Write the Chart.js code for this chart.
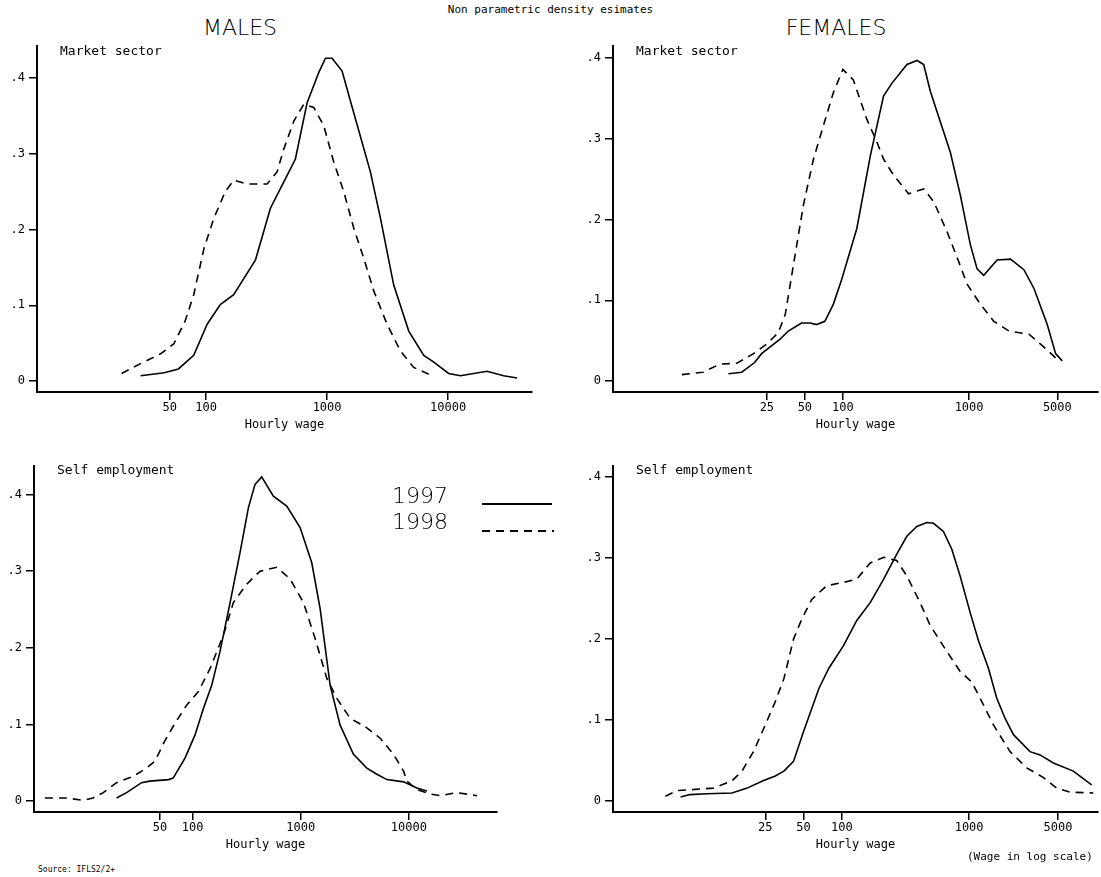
<!DOCTYPE html>
<html>
<head>
<meta charset="utf-8">
<script src="https://cdn.jsdelivr.net/npm/chart.js@4"></script>
<style>
  body { margin: 0; background: #fff; width: 1101px; height: 877px; position: relative; overflow: hidden; font-family: "DejaVu Sans Mono", monospace; }
  .box { position: absolute; }
  .txt { position: absolute; color: #000; white-space: nowrap; }
</style>
</head>
<body>
<div class="txt" style="left:0;width:1101px;top:3px;text-align:center;font-size:11px;">Non parametric density esimates</div>
<div class="txt" style="left:190px;width:100px;top:15px;text-align:center;font-size:22px;font-family:'DejaVu Sans';font-weight:200;">MALES</div>
<div class="txt" style="left:776px;width:120px;top:15px;text-align:center;font-size:22px;font-family:'DejaVu Sans';font-weight:200;">FEMALES</div>

<div class="box" style="left:0;top:35px;width:535px;height:397px;"><canvas id="c1"></canvas></div>
<div class="box" style="left:580px;top:35px;width:521px;height:397px;"><canvas id="c2"></canvas></div>
<div class="box" style="left:0;top:455px;width:500px;height:397px;"><canvas id="c3"></canvas></div>
<div class="box" style="left:580px;top:455px;width:521px;height:397px;"><canvas id="c4"></canvas></div>

<div class="txt" style="left:60px;top:43px;font-size:13px;">Market sector</div>
<div class="txt" style="left:636px;top:43px;font-size:13px;">Market sector</div>
<div class="txt" style="left:57px;top:462px;font-size:13px;">Self employment</div>
<div class="txt" style="left:636px;top:462px;font-size:13px;">Self employment</div>

<div class="txt" style="left:392px;top:483px;font-size:22px;font-family:'DejaVu Sans';font-weight:200;">1997</div>
<div class="txt" style="left:392px;top:509px;font-size:22px;font-family:'DejaVu Sans';font-weight:200;">1998</div>
<div class="box" style="left:482px;top:503px;width:70px;height:1.6px;background:#000;"></div>
<div class="box" style="left:482px;top:530px;width:72px;height:1.6px;background:repeating-linear-gradient(to right,#000 0,#000 8px,transparent 8px,transparent 14px);"></div>

<div class="txt" style="left:967px;top:850px;font-size:11px;">(Wage in log scale)</div>
<div class="txt" style="left:38px;top:865px;font-size:8px;">Source: IFLS2/2+</div>

<script>
// Males, market sector
const mMkt97W = [28.7, 45, 59, 79, 102, 131, 169, 256, 340, 453, 547, 683, 853, 969, 1100, 1330, 1660, 2280, 2760, 3550, 4730, 6300, 7620, 10100, 12650, 21000, 28800, 37200];
const mMkt97D = [.007, .011, .016, .034, .075, .101, .114, .160, .228, .267, .293, .367, .407, .426, .426, .409, .354, .276, .215, .127, .066, .034, .025, .010, .007, .013, .007, .004];
const mMkt98W = [20, 28.7, 42, 54, 67, 79, 96, 116, 144, 169, 218, 319, 386, 438, 531, 641, 776, 938, 1135, 1373, 1660, 2010, 2430, 3130, 4030, 5200, 6920];
const mMkt98D = [.010, .023, .036, .049, .079, .114, .175, .215, .250, .265, .260, .260, .276, .306, .343, .365, .361, .337, .289, .250, .202, .162, .119, .075, .040, .018, .009];

// Females, market sector
const fMkt97W = [12.4, 15.8, 20, 22.7, 31.8, 37, 47, 55, 62, 72, 84, 98, 129, 165, 210, 245, 322, 387, 437, 493, 711, 853, 1023, 1157, 1306, 1667, 2128, 2716, 3260, 4160, 4845, 5470];
const fMkt97D = [.009, .011, .023, .034, .052, .062, .072, .072, .070, .074, .095, .126, .189, .279, .353, .369, .392, .397, .392, .359, .283, .230, .169, .139, .131, .150, .151, .138, .115, .070, .034, .025];
const fMkt98W = [5.3, 7.8, 10.6, 14.4, 19.6, 25, 30.8, 35, 40.6, 48.7, 58.5, 70, 84, 100, 121, 155, 186, 210, 252, 332, 437, 525, 669, 827, 964, 1230, 1570, 2070, 2980, 3800, 5150];
const fMkt98D = [.008, .011, .021, .022, .034, .046, .060, .083, .144, .218, .275, .316, .357, .386, .373, .324, .296, .275, .255, .232, .238, .222, .185, .148, .120, .095, .074, .062, .058, .044, .025];

// Males, self employment
const mSelf97W = [19.8, 24.5, 33.7, 40, 60, 66, 85, 105, 126, 150, 179, 222, 274, 328, 377, 435, 558, 742, 986, 1264, 1510, 1870, 2313, 3073, 4084, 5055, 6260, 8930, 11860, 14680];
const mSelf97D = [.004, .011, .024, .026, .028, .030, .056, .086, .121, .151, .195, .259, .324, .383, .413, .423, .398, .385, .357, .311, .251, .151, .099, .061, .043, .035, .028, .025, .017, .013];
const mSelf98W = [4.3, 6.8, 9.7, 12, 14.9, 19.8, 28, 37.5, 44.8, 55, 69, 88, 113, 145, 192, 238, 316, 420, 600, 796, 1059, 1358, 1742, 2155, 2864, 3945, 5430, 7210, 8930, 9570, 11860, 15780, 19500, 27800, 42700];
const mSelf98D = [.004, .004, .001, .004, .011, .024, .032, .043, .052, .078, .102, .125, .143, .173, .216, .259, .283, .300, .305, .290, .259, .212, .160, .134, .108, .097, .082, .061, .039, .026, .015, .009, .007, .011, .007];

// Females, self employment
const fSelf97W = [5.4, 6.4, 8.7, 13.7, 18, 24, 30, 35, 41.7, 50, 66, 79, 103, 131, 167, 213, 270, 324, 388, 465, 525, 628, 731, 850, 1018, 1185, 1418, 1650, 1918, 2230, 3010, 3610, 4590, 6590, 9180];
const fSelf97D = [.005, .008, .009, .010, .016, .025, .031, .037, .049, .086, .139, .164, .192, .223, .245, .274, .305, .327, .339, .344, .343, .333, .311, .278, .233, .198, .164, .127, .102, .082, .061, .057, .047, .037, .020];
const fSelf98W = [4.1, 5.1, 6.4, 9.8, 13.7, 16.4, 20.2, 25, 30, 35, 41.7, 48.5, 58, 76, 103, 131, 167, 213, 270, 324, 412, 494, 648, 850, 1050, 1220, 1552, 2100, 2840, 3840, 4880, 6210, 9460];
const fSelf98D = [.006, .013, .014, .016, .025, .037, .061, .094, .123, .151, .200, .225, .249, .266, .270, .274, .294, .301, .297, .278, .245, .217, .188, .160, .147, .127, .094, .061, .041, .029, .016, .011, .010];

const maleTicks = [50, 100, 1000, 10000];
const femaleTicks = [25, 50, 100, 1000, 5000];
const densTicks = [0, 0.1, 0.2, 0.3, 0.4];

const font = { family: "DejaVu Sans Mono", size: 12 };

function pts(w, d) { return w.map((x, i) => ({ x: x, y: d[i] })); }

function panel(id, s97, s98, xTicks, xr, yr, yW) {
  new Chart(document.getElementById(id), {
    type: "line",
    data: {
      datasets: [
        { data: s97, borderColor: "#000", borderWidth: 1.6, pointRadius: 0, tension: 0, fill: false },
        { data: s98, borderColor: "#000", borderWidth: 1.6, borderDash: [8, 6], pointRadius: 0, tension: 0, fill: false },
      ],
    },
    options: {
      animation: false,
      responsive: true,
      maintainAspectRatio: false,
      layout: { padding: { top: 8, right: 3, left: 0, bottom: 0 } },
      plugins: { legend: { display: false }, tooltip: { enabled: false } },
      scales: {
        x: {
          type: "logarithmic",
          min: xr[0],
          max: xr[1],
          afterBuildTicks: (s) => { s.ticks = xTicks.map((v) => ({ value: v })); },
          afterFit: (s) => { s.height = 40; },
          ticks: { color: "#000", font: font, autoSkip: false, maxRotation: 0, padding: 1, callback: (v) => String(v) },
          grid: { drawOnChartArea: false, tickLength: 8, color: "#000", lineWidth: 1.5 },
          border: { color: "#000", width: 2 },
          title: { display: true, text: "Hourly wage", color: "#000", font: font, padding: 0 },
        },
        y: {
          min: yr[0],
          max: yr[1],
          afterBuildTicks: (s) => { s.ticks = densTicks.map((v) => ({ value: v })); },
          afterFit: (s) => { s.width = yW; },
          ticks: { color: "#000", font: font, padding: 4, callback: (v) => (v === 0 ? "0" : "." + Math.round(v * 10)) },
          grid: { drawOnChartArea: false, tickLength: 8, color: "#000", lineWidth: 1.5 },
          border: { color: "#000", width: 2 },
        },
      },
    },
  });
}

panel("c1", pts(mMkt97W, mMkt97D), pts(mMkt98W, mMkt98D), maleTicks, [4.0, 49400], [-0.0144, 0.4418], 37);
panel("c2", pts(fMkt97W, fMkt97D), pts(fMkt98W, fMkt98D), femaleTicks, [1.51, 10500], [-0.0135, 0.4147], 33);
panel("c3", pts(mSelf97W, mSelf97D), pts(mSelf98W, mSelf98D), maleTicks, [3.41, 65300], [-0.0143, 0.437], 34);
panel("c4", pts(fSelf97W, fSelf97D), pts(fSelf98W, fSelf98D), femaleTicks, [1.59, 10300], [-0.0135, 0.4135], 33);
</script>
</body>
</html>
